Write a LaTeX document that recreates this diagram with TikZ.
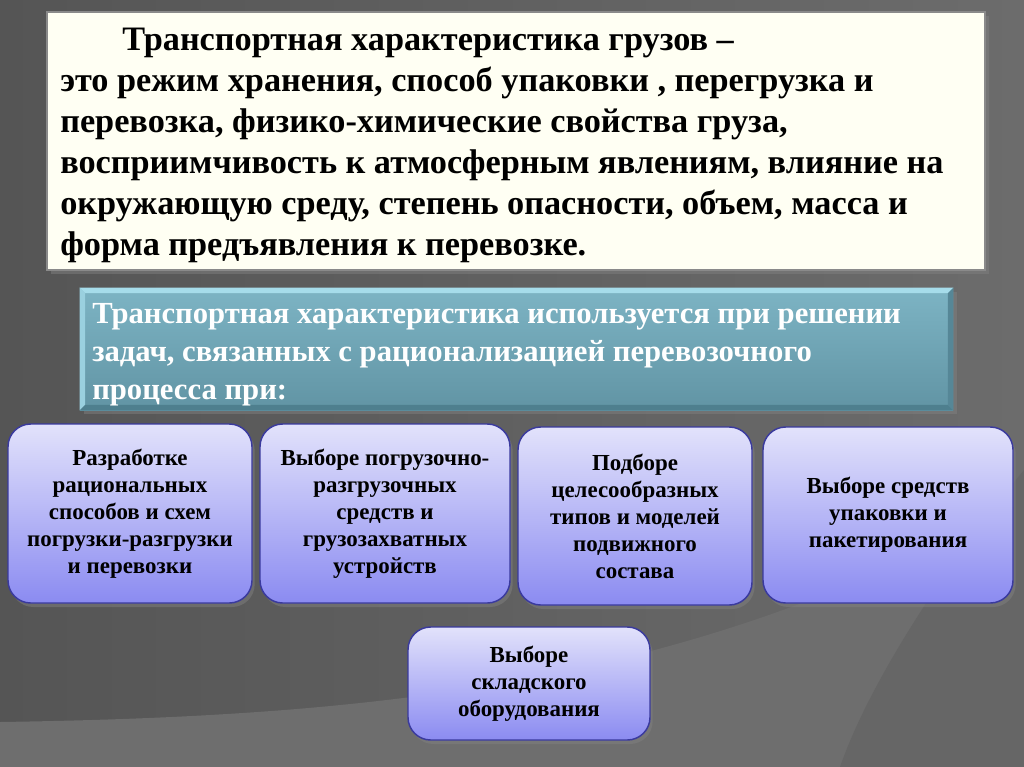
\documentclass[tikz,border=0pt]{standalone}
\usepackage{fontspec}
\setmainfont{Liberation Serif}
\usepackage{xcolor}
\usepackage{tikz}
\usetikzlibrary{shadows}

\definecolor{bgleft}{HTML}{555555}
\definecolor{bgmid}{HTML}{3E3E3E}
\definecolor{bgright}{HTML}{6C6C6C}
\definecolor{bglight}{HTML}{6E6E6E}
\definecolor{bgsweep}{HTML}{666666}
\definecolor{cream}{HTML}{FFFFF3}
\definecolor{creamframe}{HTML}{8A8A8A}
\definecolor{tealtop}{HTML}{7DB4C4}
\definecolor{tealbot}{HTML}{6194A4}
\definecolor{tealhi}{HTML}{A6DCEA}
\definecolor{tealdark}{HTML}{4E7F8E}
\definecolor{lavtop}{HTML}{E2E2FB}
\definecolor{lavbot}{HTML}{8B8BF1}
\definecolor{lavframe}{HTML}{3A3A9E}

\begin{document}
\begin{tikzpicture}[x=0.75pt,y=-0.75pt,
  defbox/.style={rectangle,fill=cream,draw=creamframe,line width=2.2pt,
    minimum width=703.5pt,minimum height=193.5pt,
    drop shadow={shadow xshift=3pt,shadow yshift=-3pt,opacity=0.5}},
  deftext/.style={anchor=west,align=left,inner sep=0pt,
    font=\bfseries\fontsize{25.7}{30.75}\selectfont},
  usebox/.style={rectangle,top color=tealtop,bottom color=tealbot,
    minimum width=654.75pt,minimum height=91.5pt,
    drop shadow={shadow xshift=3pt,shadow yshift=-3pt,opacity=0.5}},
  usetext/.style={anchor=west,align=left,inner sep=0pt,text=white,
    font=\bfseries\fontsize{23}{28.5}\selectfont},
  casebox/.style={rectangle,rounded corners=17pt,top color=lavtop,bottom color=lavbot,
    draw=lavframe,line width=1.1pt,align=center,
    font=\bfseries\fontsize{17.2}{20.25}\selectfont,
    drop shadow={shadow xshift=2pt,shadow yshift=-3pt,opacity=0.5}}]

  \useasboundingbox (0,0) rectangle (1024,767);
  % background
  \shade[left color=bgleft,middle color=bgmid,right color=bgright] (0,0) rectangle (1024,767);
  \fill[bglight] (0,722) .. controls (400,716) and (700,680) .. (1024,500) -- (1024,767) -- (0,767) -- cycle;
  \fill[bgsweep] (1024,470) .. controls (950,560) and (870,680) .. (840,767) -- (1024,767) -- cycle;

  % definition
  \node[defbox] (def) at (516,141) {};
  \node[deftext] (deftxt) at (60,145) {\hspace*{46.5pt}Транспортная характеристика грузов –\\
    это режим хранения, способ упаковки , перегрузка и\\
    перевозка, физико-химические свойства груза,\\
    восприимчивость к атмосферным явлениям, влияние на\\
    окружающую среду, степень опасности, объем, масса и\\
    форма предъявления к перевозке.};

  % usage
  \node[usebox] (use) at (516.5,349) {};
  \fill[tealhi] (use.north west) -- (use.north east) -- ([xshift=-4pt,yshift=-4pt]use.north east)
    -- ([xshift=4pt,yshift=-4pt]use.north west) -- cycle;
  \fill[tealhi!70!tealtop] (use.north west) -- ([xshift=4pt,yshift=-4pt]use.north west)
    -- ([xshift=4pt,yshift=4pt]use.south west) -- (use.south west) -- cycle;
  \fill[tealdark] (use.south west) -- (use.south east) -- ([xshift=-4pt,yshift=4pt]use.south east)
    -- ([xshift=4pt,yshift=4pt]use.south west) -- cycle;
  \fill[tealdark!60!tealbot] (use.north east) -- ([xshift=-4pt,yshift=-4pt]use.north east)
    -- ([xshift=-4pt,yshift=4pt]use.south east) -- (use.south east) -- cycle;
  \node[usetext] (usetxt) at (92,354.5) {Транспортная характеристика используется при решении\\
    задач, связанных с рационализацией перевозочного\\
    процесса при:};

  % cases
  \node[casebox,minimum width=183pt,minimum height=134.25pt] (c1) at (130,513.5)
    {Разработке\\ рациональных\\ способов и схем\\ погрузки-разгрузки\\ и перевозки};
  \node[casebox,minimum width=187.5pt,minimum height=134.25pt] (c2) at (385,513.5)
    {Выборе погрузочно-\\ разгрузочных\\ средств и\\ грузозахватных\\ устройств};
  \node[casebox,minimum width=175.5pt,minimum height=133.5pt] (c3) at (635,516)
    {Подборе\\ целесообразных\\ типов и моделей\\ подвижного\\ состава};
  \node[casebox,minimum width=187.5pt,minimum height=132pt] (c4) at (888,515)
    {Выборе средств\\ упаковки и\\ пакетирования};
  \node[casebox,minimum width=181.5pt,minimum height=84.75pt] (c5) at (529,683.5)
    {Выборе\\ складского\\ оборудования};
\end{tikzpicture}
\end{document}
